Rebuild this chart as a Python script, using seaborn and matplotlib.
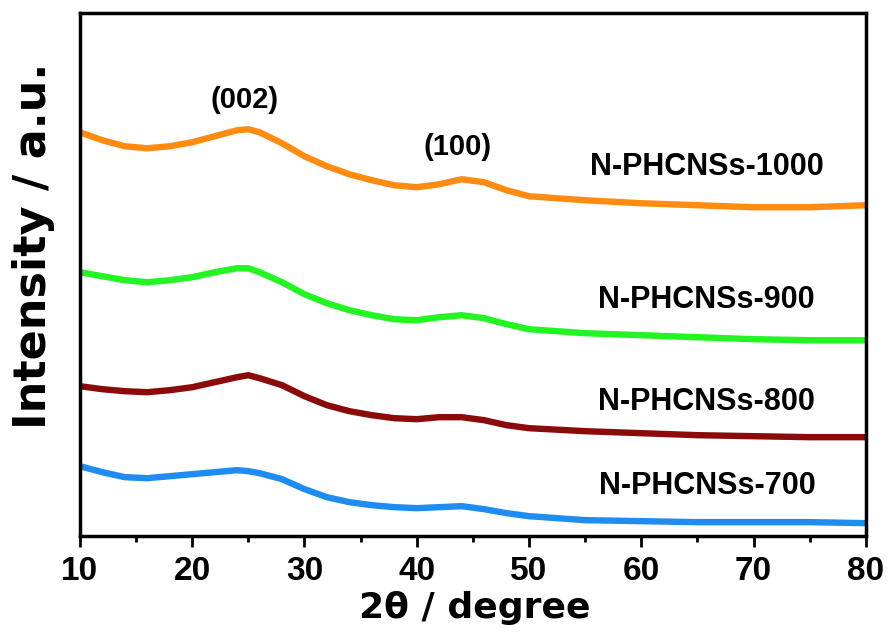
import matplotlib
matplotlib.use("Agg")
import matplotlib.pyplot as plt
import seaborn as sns
import pandas as pd
from matplotlib.ticker import MultipleLocator

sns.set_theme(style="white")
plt.rcParams['font.family'] = ['Liberation Sans', 'DejaVu Sans']
plt.rcParams['font.weight'] = 'bold'
plt.rcParams['text.color'] = 'black'
plt.rcParams['axes.labelcolor'] = 'black'
plt.rcParams['xtick.color'] = 'black'
plt.rcParams['ytick.color'] = 'black'

two_theta = [10, 12, 14, 16, 18, 20, 22, 24, 25, 26, 28, 30, 32, 34, 36, 38,
             40, 42, 44, 46, 48, 50, 55, 60, 65, 70, 75, 80]
i_1000 = [404, 396, 390, 388, 390, 394, 400, 406, 407, 404, 393, 380, 370, 362,
          356, 351, 349, 352, 357, 354, 346, 340, 336, 333, 331, 329, 329, 331]
i_900 = [264, 260, 256, 254, 256, 259, 264, 268, 268, 264, 254, 242, 233, 226,
         221, 217, 216, 219, 221, 218, 212, 207, 203, 201, 199, 197, 196, 196]
i_800 = [150, 147, 145, 144, 146, 149, 154, 159, 161, 158, 151, 140, 131, 125,
         121, 118, 117, 119, 119, 116, 111, 108, 105, 103, 101, 100, 99, 99]
i_700 = [70, 64, 59, 58, 60, 62, 64, 66, 65, 63, 57, 47, 39, 34,
         31, 29, 28, 29, 30, 27, 23, 20, 16, 15, 14, 14, 14, 13]

samples = ["N-PHCNSs-1000", "N-PHCNSs-900", "N-PHCNSs-800", "N-PHCNSs-700"]
series = [i_1000, i_900, i_800, i_700]
colors = ["#FF8C10", "#22F522", "#8B0A0A", "#1E8CF0"]
label_pos = [(65.8, 369), (65.8, 236), (65.8, 134), (65.9, 50)]
peak_labels = ["(002)", "(100)"]
peak_pos = [(24.7, 436), (43.6, 389)]

rows = []
for name, vals in zip(samples, series):
    for x, y in zip(two_theta, vals):
        rows.append({"two_theta": x, "intensity": y, "sample": name})
df = pd.DataFrame(rows)

fig = plt.figure(figsize=(8.88, 6.33), dpi=100)
fig.patch.set_facecolor('white')
ax = fig.add_axes([0.090, 0.153, 0.885, 0.826])
ax.set_facecolor('white')

sns.lineplot(data=df, x="two_theta", y="intensity", hue="sample",
             palette=dict(zip(samples, colors)), estimator=None, sort=False,
             linewidth=4.6, legend=False, ax=ax)
for line in ax.get_lines():
    line.set_solid_joinstyle('round')
    line.set_solid_capstyle('butt')

ax.set_xlim(10, 80)
ax.set_ylim(0, 523)
ax.xaxis.set_major_locator(MultipleLocator(10))
ax.xaxis.set_minor_locator(MultipleLocator(5))
ax.set_yticks([])
ax.tick_params(axis='x', which='major', direction='out', length=8, width=2,
               labelsize=24, pad=6, bottom=True, colors='black')
ax.tick_params(axis='x', which='minor', direction='out', length=4, width=2,
               bottom=True, colors='black')
for lab in ax.get_xticklabels():
    lab.set_fontweight('bold')
for sp in ax.spines.values():
    sp.set_linewidth(2.5)
    sp.set_color('black')
    sp.set_visible(True)

ax.set_xlabel("2θ / degree", fontsize=26, fontweight='bold',
              family=['DejaVu Sans'])
ax.xaxis.set_label_coords(0.502, -0.105)
ax.set_ylabel("Intensity / a.u.", fontsize=32, fontweight='bold',
              family=['DejaVu Sans'])
ax.yaxis.set_label_coords(-0.032, 0.555)

for name, (x, y) in zip(samples, label_pos):
    ax.text(x, y, name, fontsize=22, fontweight='bold', ha='center', va='center')
for name, (x, y) in zip(peak_labels, peak_pos):
    ax.text(x, y, name, fontsize=21, fontweight='bold', ha='center', va='center')

fig.savefig("out.png", dpi=100, facecolor='white')
